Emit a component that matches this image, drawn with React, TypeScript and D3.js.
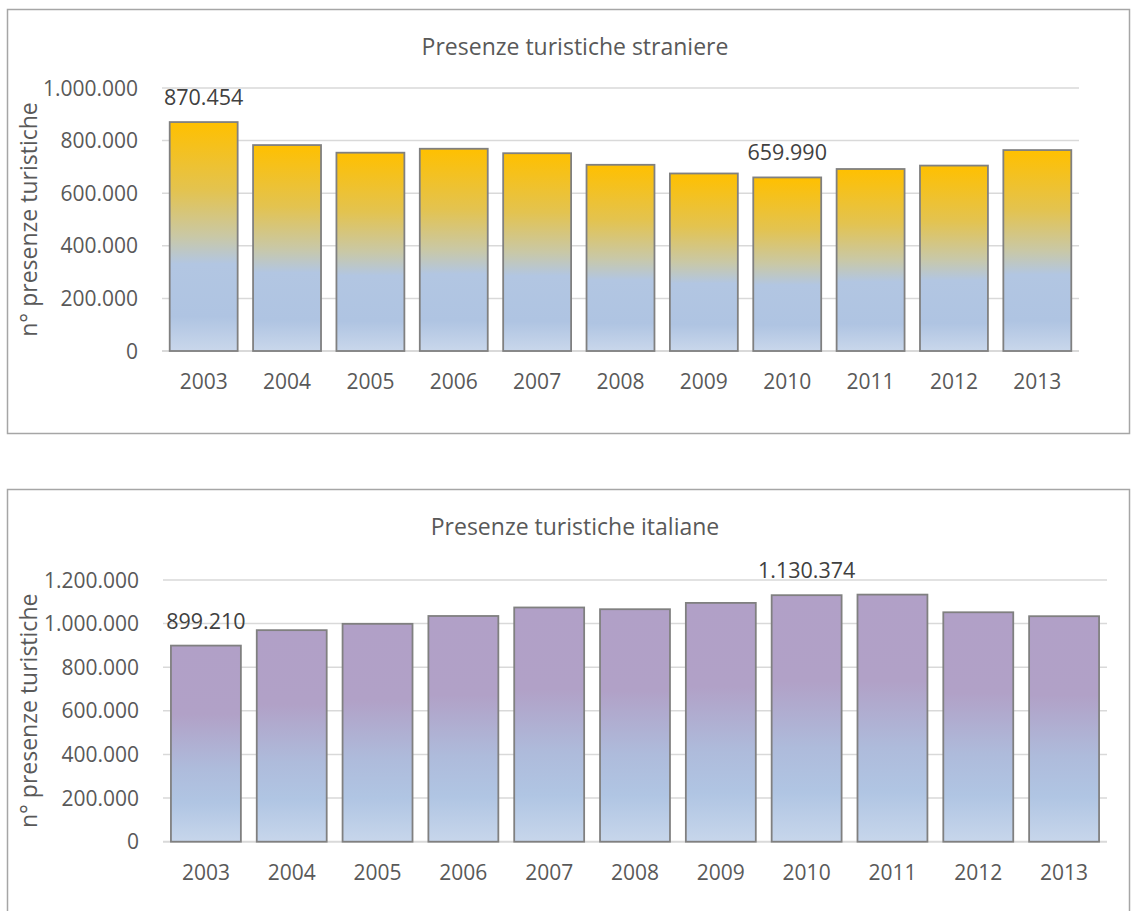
import * as d3 from 'd3';

const years = ['2003', '2004', '2005', '2006', '2007', '2008', '2009', '2010', '2011', '2012', '2013'];
const stranieri = [870454, 783000, 754000, 769000, 752000, 708000, 675000, 659990, 692000, 705000, 764000];
const italiani = [899210, 970000, 999000, 1035000, 1074000, 1066000, 1095000, 1130374, 1133000, 1052000, 1034000];
const stranieriTicks = [0, 200000, 400000, 600000, 800000, 1000000];
const italianiTicks = [0, 200000, 400000, 600000, 800000, 1000000, 1200000];
const stranieriLabelled = ['2003', '2010'];
const italianiLabelled = ['2003', '2010'];

const itFormat = d3.formatLocale({ decimal: ',', thousands: '.', grouping: [3], currency: ['€', ''] }).format(',d');

const FONT = '"Open Sans", sans-serif';
const TEXT = '#595959';

type PanelProps = {
    title: string;
    values: number[];
    ticks: number[];
    labelled: string[];
    gradientId: string;
    frame: [number, number, number, number];
    plot: { left: number; right: number; top: number; bottom: number };
    titleY: number;
};

function Panel({ title, values, ticks, labelled, gradientId, frame, plot, titleY }: PanelProps) {
    const x = d3.scaleBand<string>().domain(years).range([plot.left, plot.right]).paddingInner(0.185).paddingOuter(0.0925);
    const y = d3.scaleLinear().domain([0, ticks[ticks.length - 1]]).range([plot.bottom, plot.top]);
    const [fx, fy, fw, fh] = frame;

    return (
        <g>
            <rect x={fx} y={fy} width={fw} height={fh} fill="#fff" stroke="#a6a6a6" strokeWidth={1.5} />
            <text x={575} y={titleY} textAnchor="middle" fontSize={23} fill={TEXT} fontFamily={FONT}>
                {title}
            </text>
            {ticks.map((t) => (
                <g key={t}>
                    <line x1={plot.left} x2={plot.right} y1={y(t)} y2={y(t)} stroke="#d9d9d9" strokeWidth={t === 0 ? 2 : 1.5} />
                    <text x={plot.left - 24} y={y(t)} dy="0.36em" textAnchor="end" fontSize={21} fill={TEXT} fontFamily={FONT}>
                        {itFormat(t)}
                    </text>
                </g>
            ))}
            {years.map((yr, i) => (
                <g key={yr}>
                    <rect
                        x={x(yr)}
                        y={y(values[i])}
                        width={x.bandwidth()}
                        height={y(0) - y(values[i])}
                        fill={`url(#${gradientId})`}
                        stroke="#808080"
                        strokeWidth={1.8}
                    />
                    <text
                        x={(x(yr) ?? 0) + x.bandwidth() / 2}
                        y={plot.bottom + 38}
                        textAnchor="middle"
                        fontSize={21}
                        fill={TEXT}
                        fontFamily={FONT}
                    >
                        {yr}
                    </text>
                    {labelled.includes(yr) && (
                        <text
                            x={(x(yr) ?? 0) + x.bandwidth() / 2}
                            y={y(values[i]) - 17}
                            textAnchor="middle"
                            fontSize={21.5}
                            fill="#404040"
                            fontFamily={FONT}
                        >
                            {itFormat(values[i])}
                        </text>
                    )}
                </g>
            ))}
            <text
                transform={`translate(29,${(plot.top + plot.bottom) / 2}) rotate(-90)`}
                textAnchor="middle"
                dy="0.36em"
                fontSize={23}
                fill={TEXT}
                fontFamily={FONT}
            >
                n° presenze turistiche
            </text>
        </g>
    );
}

export default function App() {
    return (
        <svg width={1131} height={911} style={{ position: 'absolute', left: 0, top: 0 }}>
            <defs>
                <linearGradient id="grad-stranieri" x1="0" x2="0" y1="0" y2="1">
                    <stop offset="0%" stopColor="#ffc000" />
                    <stop offset="30%" stopColor="#e3c350" />
                    <stop offset="50%" stopColor="#c9c8a6" />
                    <stop offset="62%" stopColor="#b2c6e2" />
                    <stop offset="85%" stopColor="#afc4e2" />
                    <stop offset="100%" stopColor="#c9d7eb" />
                </linearGradient>
                <linearGradient id="grad-italiani" x1="0" x2="0" y1="0" y2="1">
                    <stop offset="0%" stopColor="#b1a0c7" />
                    <stop offset="35%" stopColor="#b1a1c7" />
                    <stop offset="62%" stopColor="#aebbdb" />
                    <stop offset="80%" stopColor="#b0c5e3" />
                    <stop offset="100%" stopColor="#c7d6eb" />
                </linearGradient>
            </defs>
            <Panel
                title="Presenze turistiche straniere"
                values={stranieri}
                ticks={stranieriTicks}
                labelled={stranieriLabelled}
                gradientId="grad-stranieri"
                frame={[7.5, 9.5, 1122, 424]}
                plot={{ left: 162, right: 1079, top: 88, bottom: 351 }}
                titleY={55}
            />
            <Panel
                title="Presenze turistiche italiane"
                values={italiani}
                ticks={italianiTicks}
                labelled={italianiLabelled}
                gradientId="grad-italiani"
                frame={[7.5, 489.5, 1122, 440]}
                plot={{ left: 163, right: 1107, top: 580, bottom: 841.7 }}
                titleY={535}
            />
        </svg>
    );
}
